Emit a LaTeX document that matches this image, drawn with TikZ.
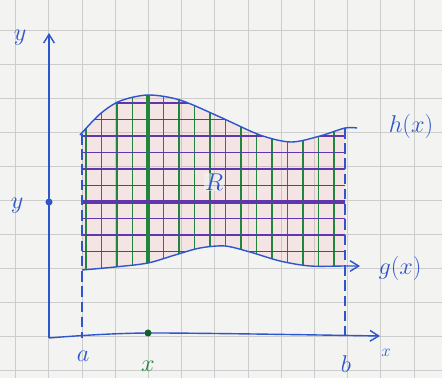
\documentclass[tikz,border=0pt]{standalone}
\usepackage{amsmath}
\usetikzlibrary{arrows.meta}
\definecolor{penblue}{RGB}{45,85,205}
\definecolor{pengreen}{RGB}{30,135,60}
\definecolor{penpurple}{RGB}{95,55,170}
\definecolor{paper}{RGB}{243,243,241}
\definecolor{gridgray}{RGB}{205,205,205}

\begin{document}
\begin{tikzpicture}[x=0.03cm, y=-0.03cm,
    pen/.style={penblue, line width=1.2pt},
    lbl/.style={penblue, font=\huge},
    tip/.style={-{Straight Barb[length=2.6mm, width=3.2mm]}}]

% ---- paper with squares ----
\fill[paper] (0,0) rectangle (442,378);
\useasboundingbox (0,0) rectangle (442,378);
\draw[gridgray, line width=0.5pt]
  \foreach \i in {15.5,48.7,...,430} { (\i,0) -- (\i,378) }
  \foreach \j in {30,64,...,378} { (0,\j) -- (442,\j) };

% ---- region R between g(x) and h(x) ----
\begin{scope}
  \clip plot[smooth] coordinates {(82,133) (100,114) (120,101) (148,95) (180,100) (220,117) (260,135) (291,142) (320,136) (345,128)}
     -- plot[smooth] coordinates {(345,266) (310,266) (280,261) (250,252) (225,246) (200,248) (175,255) (148,263) (115,267) (82,270)}
     -- cycle;
  \fill[red!45!pink, opacity=0.1] (70,80) rectangle (360,290);
  \draw[pengreen, line width=0.9pt]
    \foreach \x in {86,101.5,...,340} { (\x,80) -- (\x,290) };
  \draw[penpurple, line width=0.9pt]
    \foreach \y in {103,119.5,...,260} { (80,\y) -- (347,\y) };
  \draw[pengreen, line width=3.4pt] (148,80) -- (148,290);
\end{scope}
\draw[penpurple, line width=3pt] (83,202) -- (345,202);

% ---- curves ----
\draw[pen] plot[smooth] coordinates {(80,135) (100,114) (120,101) (148,95) (180,100) (220,117) (260,135) (291,142) (320,136) (345,128) (357,128)};
\draw[pen, tip] plot[smooth] coordinates {(82,270) (115,267) (148,263) (175,255) (200,248) (225,246) (250,252) (280,261) (310,266) (345,266) (360,266)};
\node[lbl] (hlab) at (411,126) {$h(x)$};
\node[lbl] (glab) at (400,268) {$g(x)$};
\node[penblue, font=\huge, fill=paper, fill opacity=0.6, text opacity=1, inner sep=1pt] (rlab) at (214,182) {$R$};

% ---- axes ----
\coordinate (O) at (49,338);
\coordinate (ytop) at (49,33);
\coordinate (xend) at (380,336);
\draw[pen, tip] (O) -- (ytop);
\draw[pen, tip] plot[smooth] coordinates {(O) (148,333) (xend)};
\node[lbl] (ylab) at (20,38) {$y$};
\node[penblue, font=\Large] (xlab) at (386,353) {$x$};

% dashed lines x = a and x = b
\draw[pen, dashed, dash pattern=on 9pt off 4pt] (82,134) -- (82,338);
\draw[pen, dashed, dash pattern=on 9pt off 4pt] (345,128) -- (345,336);
\node[lbl] (alab) at (83,356) {$a$};
\node[lbl] (blab) at (346,364) {$b$};

% ---- the fixed point on each axis ----
\fill[penblue] (49,202) circle (3pt) coordinate (ypt);
\node[lbl] (yval) at (17,206) {$y$};
\fill[pengreen!70!black] (148,333) circle (3pt) coordinate (xpt);
\node[pengreen, font=\huge] (xval) at (148,366) {$x$};

\end{tikzpicture}
\end{document}
